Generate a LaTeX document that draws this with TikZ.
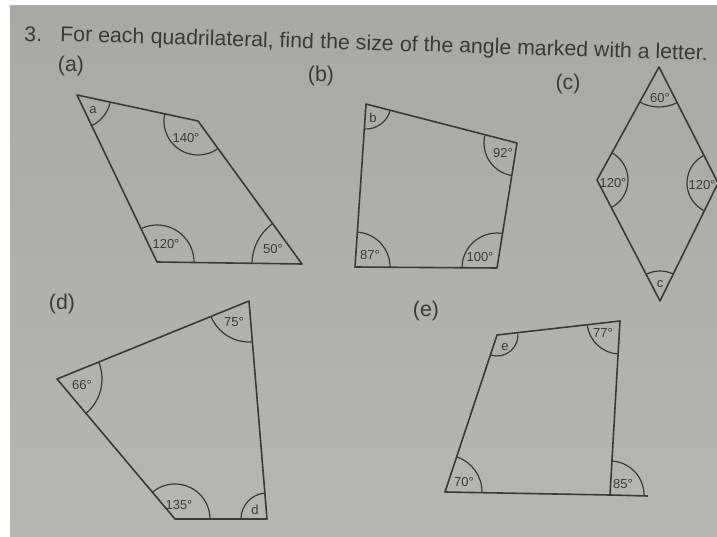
\documentclass[tikz,border=0pt]{standalone}
\usepackage{fontspec}
\setmainfont{Liberation Sans}
\usetikzlibrary{angles}
\definecolor{paper}{RGB}{168,168,165}
\definecolor{paperlight}{RGB}{182,182,179}
\definecolor{ink}{RGB}{58,58,58}

\begin{document}
\begin{tikzpicture}[
    x=1pt,y=1pt,
    quadline/.style={ink,line width=1.6pt,line join=round},
    ang/.style={draw=ink,line width=1.2pt},
    val/.style={ink,font=\fontsize{13}{15}\selectfont,inner sep=0pt},
    tag/.style={ink,font=\fontsize{21.3}{25}\selectfont,inner sep=0pt},
    slant/.style={tag,anchor=base west,rotate=-1.7}
]
    \useasboundingbox (0,0) rectangle (717,536);
    % photo of the page, white margin on the left and top
    \fill[white] (0,0) rectangle (717,536);
    \shade[top color=paper,bottom color=paperlight] (10,0) rectangle (717,530);

    % Question, in pieces that follow the slanted line
    \node[slant] (num) at (24,495) {3.};
    \node[slant] (q1) at (60,495) {For each};
    \node[slant] (q2) at (q1.base east) {\ quadrilateral, find};
    \node[slant] (q3) at (q2.base east) {\ the size};
    \node[slant] (q4) at (q3.base east) {\ of the angle marked with a letter.};

    % (a)
    \node[tag] (parta) at (71,470) {(a)};
    \coordinate (a1) at (77,441);
    \coordinate (a2) at (198,415);
    \coordinate (a3) at (302,272);
    \coordinate (a4) at (157,274);
    \draw[quadline] (a1) -- (a2) -- (a3) -- (a4) -- cycle;
    \pic[ang,angle radius=34pt] {angle=a4--a1--a2};
    \pic[ang,angle radius=34pt] {angle=a1--a2--a3};
    \pic[ang,angle radius=50pt] {angle=a2--a3--a4};
    \pic[ang,angle radius=37pt] {angle=a3--a4--a1};
    \node[val] (va) at (93,426) {a};
    \node[val] (va2) at (186,398) {140°};
    \node[val] (va3) at (273,287) {50°};
    \node[val] (va4) at (166,292) {120°};

    % (b)
    \node[tag] (partb) at (321,460) {(b)};
    \coordinate (b1) at (366,432);
    \coordinate (b2) at (517,393);
    \coordinate (b3) at (497,268);
    \coordinate (b4) at (355,269);
    \draw[quadline] (b1) -- (b2) -- (b3) -- (b4) -- cycle;
    \pic[ang,angle radius=25pt] {angle=b4--b1--b2};
    \pic[ang,angle radius=33pt] {angle=b1--b2--b3};
    \pic[ang,angle radius=35pt] {angle=b2--b3--b4};
    \pic[ang,angle radius=35pt] {angle=b3--b4--b1};
    \node[val] (vb) at (373,418) {b};
    \node[val] (vb2) at (503,383) {92°};
    \node[val] (vb3) at (480,279) {100°};
    \node[val] (vb4) at (370,281) {87°};

    % (c) rhombus, right corner runs off the page
    \node[tag] (partc) at (568,452) {(c)};
    \coordinate (c1) at (659,469);
    \coordinate (c2) at (718,353);
    \coordinate (c3) at (660,235);
    \coordinate (c4) at (597,356);
    \draw[quadline] (c1) -- (c2) -- (c3) -- (c4) -- cycle;
    \pic[ang,angle radius=40pt] {angle=c4--c1--c2};
    \pic[ang,angle radius=31pt] {angle=c1--c2--c3};
    \pic[ang,angle radius=30pt] {angle=c2--c3--c4};
    \pic[ang,angle radius=31pt] {angle=c3--c4--c1};
    \node[val] (vc1) at (660,438) {60°};
    \node[val] (vc2) at (702,351) {120°};
    \node[val] (vc) at (660,252) {c};
    \node[val] (vc4) at (613,353) {120°};

    % (d)
    \node[tag] (partd) at (62,232) {(d)};
    \coordinate (d1) at (249,235);
    \coordinate (d2) at (267,17);
    \coordinate (d3) at (175,17);
    \coordinate (d4) at (57,157);
    \draw[quadline] (d1) -- (d2) -- (d3) -- (d4) -- cycle;
    \pic[ang,angle radius=41pt] {angle=d4--d1--d2};
    \pic[ang,angle radius=26pt] {angle=d1--d2--d3};
    \pic[ang,angle radius=35pt] {angle=d2--d3--d4};
    \pic[ang,angle radius=45pt] {angle=d3--d4--d1};
    \node[val] (vd1) at (234,214) {75°};
    \node[val] (vd) at (255,26) {d};
    \node[val] (vd3) at (179,31) {135°};
    \node[val] (vd4) at (82,151) {66°};

    % (e) bottom side extended past the corner
    \node[tag] (parte) at (426,225) {(e)};
    \coordinate (e1) at (497,201);
    \coordinate (e2) at (620,215);
    \coordinate (e3) at (610,41);
    \coordinate (e4) at (445,44);
    \coordinate (e5) at (648,40);
    \draw[quadline] (e1) -- (e2) -- (e3) -- (e4) -- cycle;
    \draw[quadline] (e3) -- (e5);
    \pic[ang,angle radius=21pt] {angle=e4--e1--e2};
    \pic[ang,angle radius=33pt] {angle=e1--e2--e3};
    \pic[ang,angle radius=34pt] {angle=e5--e3--e2};
    \pic[ang,angle radius=37pt] {angle=e3--e4--e1};
    \node[val] (ve) at (505,189) {e};
    \node[val] (ve2) at (603,203) {77°};
    \node[val] (ve3) at (623,52) {85°};
    \node[val] (ve4) at (464,54) {70°};
\end{tikzpicture}
\end{document}
